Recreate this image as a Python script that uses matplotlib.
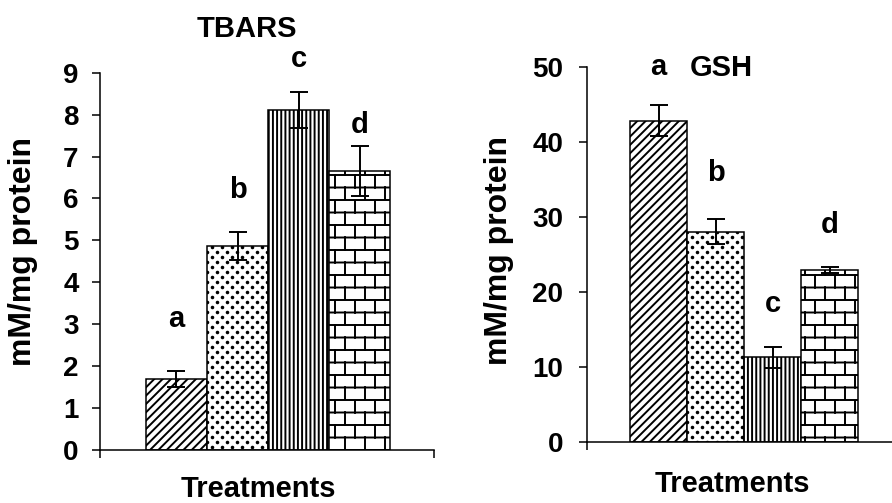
import warnings
import numpy as np
import matplotlib
matplotlib.use("Agg")
import matplotlib.pyplot as plt
from matplotlib import hatch as mhatch
from matplotlib.path import Path

warnings.filterwarnings("ignore")

# ---------------- data ----------------
treatments = ["T1", "T2", "T3", "T4"]
tbars_mean = [1.70, 4.87, 8.12, 6.66]
tbars_err = [0.19, 0.33, 0.43, 0.60]
tbars_letters = ["a", "b", "c", "d"]
tbars_letter_y = [2.94, 6.00, 9.14, 7.55]
tbars_ticks = [0, 1, 2, 3, 4, 5, 6, 7, 8, 9]

gsh_mean = [42.8, 28.0, 11.25, 22.9]
gsh_err = [2.1, 1.65, 1.4, 0.35]
gsh_letters = ["a", "b", "c", "d"]
gsh_letter_y = [48.9, 34.7, 17.3, 27.8]
gsh_ticks = [0, 10, 20, 30, 40, 50]

ylabel_text = "mM/mg protein"
xlabel_text = "Treatments"
bar_hatches = ["////", "D", "||||", "B"]


# ---------------- custom hatches ----------------
class BrickHatch(mhatch.HatchPatternBase):
    rows = 8
    cols = 5

    def __init__(self, hatch, density):
        self.on = "B" in hatch
        n_h = self.rows + 1
        n_v = self.rows * self.cols
        self.num_vertices = (n_h + n_v) * 2 if self.on else 0

    def set_vertices_and_codes(self, vertices, codes):
        segs = []
        for i in range(self.rows + 1):
            y = i / self.rows
            segs.append(((0.0, y), (1.0, y)))
        for i in range(self.rows):
            off = 0.25 if i % 2 == 0 else 0.75
            for j in range(self.cols):
                xx = (j + off) / self.cols
                segs.append(((xx, i / self.rows), (xx, (i + 1) / self.rows)))
        arr = np.array(segs, dtype=float).reshape(-1, 2)
        vertices[:] = arr
        codes[0::2] = Path.MOVETO
        codes[1::2] = Path.LINETO


class DotHatch(mhatch.HatchPatternBase):
    rows = 20
    cols = 10
    radius = 0.008

    def __init__(self, hatch, density):
        self.on = "D" in hatch
        self.circle = Path.unit_circle()
        n = len(self.circle.vertices)
        self.num_vertices = self.rows * self.cols * n if self.on else 0

    def set_vertices_and_codes(self, vertices, codes):
        cv = self.circle.vertices * self.radius
        cc = self.circle.codes
        vparts, cparts = [], []
        for r in range(self.rows):
            y = (r + 0.5) / self.rows
            off = 0.25 if r % 2 == 0 else 0.75
            for c in range(self.cols):
                xx = (c + off) / self.cols
                vparts.append(cv + [xx, y])
                cparts.append(cc)
        vertices[:] = np.concatenate(vparts)
        codes[:] = np.concatenate(cparts)


mhatch._hatch_types.append(BrickHatch)
mhatch._hatch_types.append(DotHatch)

plt.rcParams["font.family"] = ["Liberation Sans", "DejaVu Sans"]
plt.rcParams["font.weight"] = "bold"
plt.rcParams["hatch.linewidth"] = 1.4
plt.rcParams["hatch.color"] = "black"

W, H = 892, 503
fig = plt.figure(figsize=(W / 100, H / 100), dpi=100)


def panel(ax, means, errs, letters, letter_y, ticks, ylim, xlim, tick_pad):
    x = np.arange(len(means))
    for xi, m, h in zip(x, means, bar_hatches):
        ax.bar(xi, m, width=1.0, color="white", edgecolor="black",
               hatch=h, linewidth=1.1, zorder=2)
    ax.errorbar(x, means, yerr=errs, fmt="none", ecolor="black",
                elinewidth=1.4, capsize=6.5, capthick=1.4, zorder=3)
    for xi, lab, ly in zip(x, letters, letter_y):
        ax.text(xi, ly, lab, ha="center", va="baseline", fontsize=21,
                fontweight="bold", clip_on=False)
    ax.set_ylim(*ylim)
    ax.set_xlim(*xlim)
    ax.set_yticks(ticks)
    ax.set_yticklabels([str(t) for t in ticks])
    ax.set_xticks([xlim[0], xlim[1]])
    ax.set_xticklabels(["", ""])
    for s in ("top", "right"):
        ax.spines[s].set_visible(False)
    for s in ("left", "bottom"):
        ax.spines[s].set_linewidth(1.1)
        ax.spines[s].set_color("black")
    ax.tick_params(axis="y", direction="out", length=6, width=1.1,
                   labelsize=20, pad=tick_pad)
    ax.tick_params(axis="x", direction="out", length=6, width=1.1)
    for t in ax.get_yticklabels():
        t.set_fontweight("bold")
    ax.patch.set_visible(False)


# Left panel: TBARS
axL = fig.add_axes([100 / W, 1 - 450 / H, 334 / W, 377.3 / H])
panel(axL, tbars_mean, tbars_err, tbars_letters, tbars_letter_y,
      tbars_ticks, (0, 9), (-1.254, 4.221), 9.4)
axL.text(1.16, 9.86, "TBARS", ha="center", va="baseline", fontsize=21,
         fontweight="bold", clip_on=False)
axL.text(-0.232, 0.525, ylabel_text, transform=axL.transAxes, rotation=90,
         ha="center", va="center", fontsize=23, fontweight="bold")
axL.text(0.473, -0.1246, xlabel_text, transform=axL.transAxes,
         ha="center", va="baseline", fontsize=21, fontweight="bold")

# Right panel: GSH
axR = fig.add_axes([586.7 / W, 1 - 441.7 / H, 321.1 / W, 375 / H])
panel(axR, gsh_mean, gsh_err, gsh_letters, gsh_letter_y,
      gsh_ticks, (0, 50), (-1.26, 4.37), 10.8)
axR.text(1.1, 48.8, "GSH", ha="center", va="baseline", fontsize=21,
         fontweight="bold", clip_on=False)
axR.text(-0.273, 0.511, ylabel_text, transform=axR.transAxes, rotation=90,
         ha="center", va="center", fontsize=23, fontweight="bold")
axR.text(0.4525, -0.134, xlabel_text, transform=axR.transAxes,
         ha="center", va="baseline", fontsize=21, fontweight="bold")

fig.savefig("out.png", dpi=100, facecolor="white")
